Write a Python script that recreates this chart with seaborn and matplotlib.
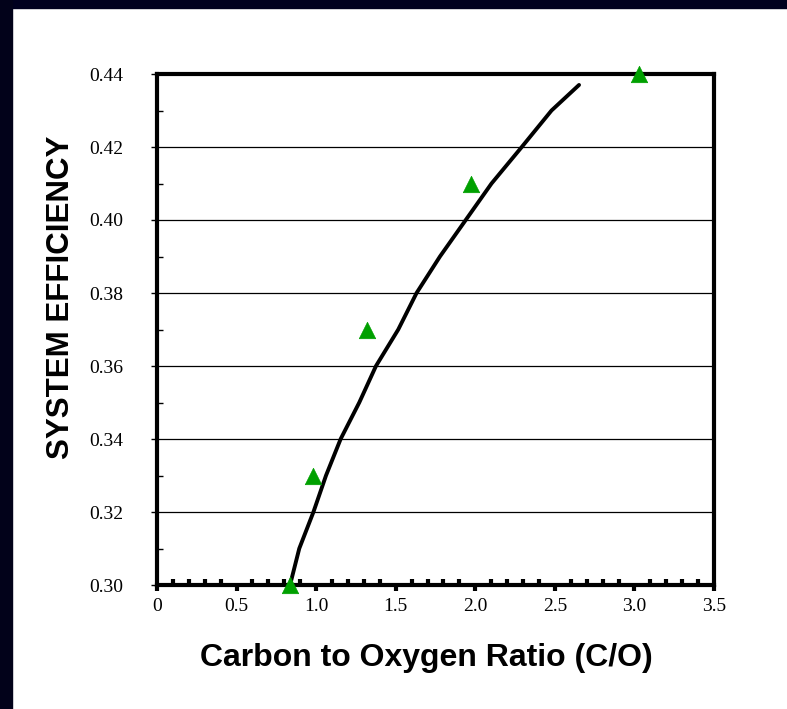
import matplotlib
matplotlib.use("Agg")
import matplotlib.pyplot as plt
from matplotlib.patches import Rectangle
from matplotlib.ticker import MultipleLocator
import seaborn as sns
import pandas as pd

# Fitted curve
curve_x = [0.836, 0.894, 0.983, 1.062, 1.154, 1.271, 1.376, 1.516, 1.631,
           1.778, 1.940, 2.102, 2.292, 2.479, 2.652]
curve_y = [0.300, 0.310, 0.320, 0.330, 0.340, 0.350, 0.360, 0.370, 0.380,
           0.390, 0.400, 0.410, 0.420, 0.430, 0.437]
# Data points
pts_x = [0.836, 0.98, 1.32, 1.975, 3.03]
pts_y = [0.300, 0.330, 0.370, 0.410, 0.440]

x_ticks = [0, 0.5, 1.0, 1.5, 2.0, 2.5, 3.0, 3.5]
x_labels = ["0", "0.5", "1.0", "1.5", "2.0", "2.5", "3.0", "3.5"]
y_ticks = [0.30, 0.32, 0.34, 0.36, 0.38, 0.40, 0.42, 0.44]
y_labels = ["0.30", "0.32", "0.34", "0.36", "0.38", "0.40", "0.42", "0.44"]

sns.set_style("white")
plt.rcParams.update({"text.color": "black", "axes.labelcolor": "black",
                     "xtick.color": "black", "ytick.color": "black"})
fig = plt.figure(figsize=(7.87, 7.09), dpi=100)
fig.patch.set_facecolor("white")
# dark frame bands (top and left)
fig.add_artist(Rectangle((0, 1 - 8 / 709), 1, 8 / 709, transform=fig.transFigure,
                         color="#00001f", zorder=0))
fig.add_artist(Rectangle((0, 0), 12 / 787, 1, transform=fig.transFigure,
                         color="#02021a", zorder=0))

ax = fig.add_axes([157 / 787, 124 / 709, 557 / 787, 511 / 709])

curve = pd.DataFrame({"x": curve_x, "y": curve_y})
pts = pd.DataFrame({"x": pts_x, "y": pts_y})

for yt in y_ticks[1:-1]:
    ax.axhline(yt, color="black", lw=0.9, zorder=1)

sns.lineplot(data=curve, x="x", y="y", ax=ax, color="black", lw=2.8,
             zorder=3, sort=False, solid_joinstyle="round",
             solid_capstyle="round")
sns.scatterplot(data=pts, x="x", y="y", ax=ax, marker="^", s=140,
                color="#00a000", edgecolor="#00a000", linewidth=0.5,
                zorder=4, clip_on=False)

ax.set_xlim(0, 3.5)
ax.set_ylim(0.30, 0.44)

for s in ax.spines.values():
    s.set_visible(True)
    s.set_color("black")
    s.set_linewidth(3)

serif = "Liberation Serif"
ax.set_xticks(x_ticks)
ax.set_xticklabels(x_labels, fontfamily=serif, fontsize=14)
ax.set_yticks(y_ticks)
ax.set_yticklabels(y_labels, fontfamily=serif, fontsize=14)
ax.xaxis.set_minor_locator(MultipleLocator(0.1))
ax.yaxis.set_minor_locator(MultipleLocator(0.01))
ax.tick_params(axis="x", which="major", direction="out", length=4, width=3,
               color="black", pad=5.5, bottom=True)
ax.tick_params(axis="x", which="minor", direction="in", length=4, width=3,
               color="black", bottom=True)
ax.tick_params(axis="y", which="major", direction="out", length=4, width=1,
               color="black", pad=20, left=True)
ax.tick_params(axis="y", which="minor", direction="in", length=4, width=1,
               color="black", left=True)

ax.set_xlabel("Carbon to Oxygen Ratio (C/O)", fontfamily="Liberation Sans",
              fontweight="bold", fontsize=23, color="black")
ax.set_ylabel("SYSTEM EFFICIENCY", fontfamily="Liberation Sans",
              fontweight="bold", fontsize=22.5, color="black")
ax.xaxis.set_label_coords(0.483, -0.114)
ax.yaxis.set_label_coords(-0.145, 0.5636)

fig.savefig("out.png", dpi=100, facecolor="white")
